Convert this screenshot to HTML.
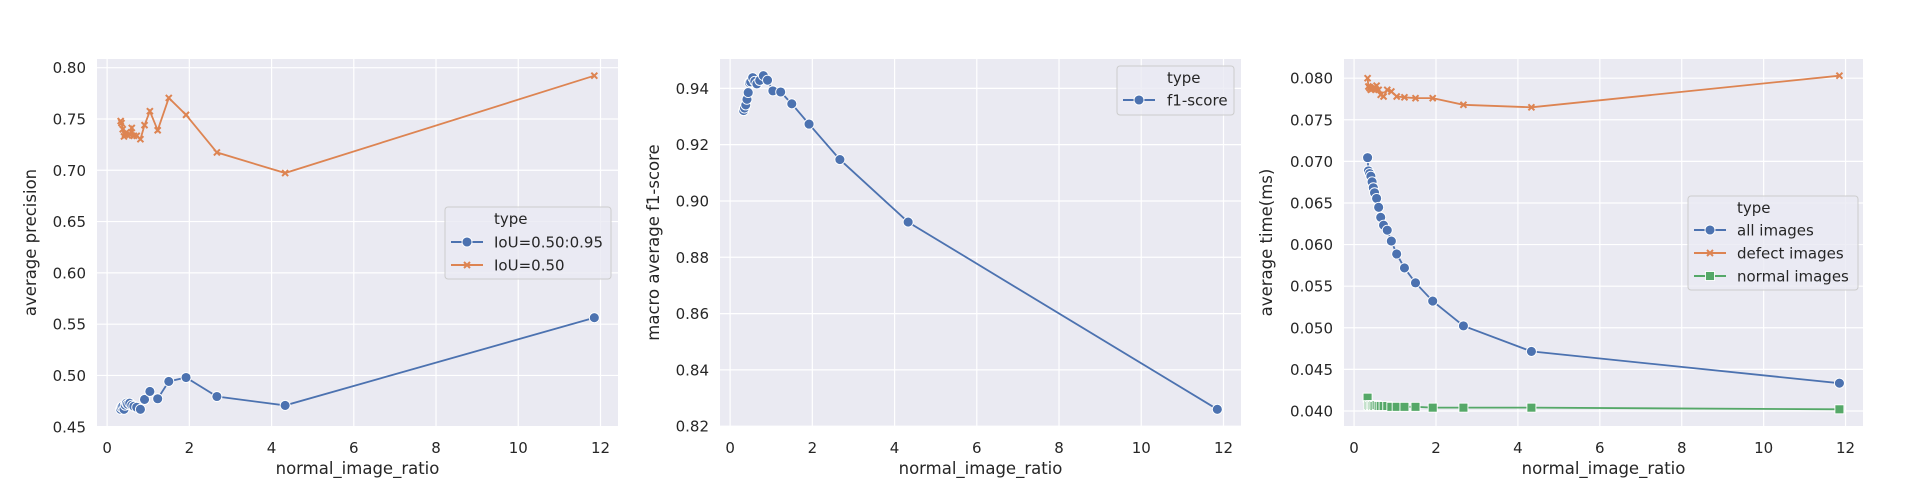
<!DOCTYPE html>
<html><head><meta charset="utf-8"><style>
body{margin:0;background:#fff;}
svg{display:block;font-family:"DejaVu Sans","Liberation Sans",sans-serif;}
</style></head><body>
<svg id="chart" width="1920" height="480" viewBox="0 0 1920 480" xmlns="http://www.w3.org/2000/svg"></svg>
<script>
const ratios = [0.33,0.35,0.38,0.41,0.44,0.47,0.50,0.55,0.60,0.65,0.72,0.81,0.91,1.04,1.23,1.50,1.92,2.67,4.33,11.85];
const apIoU5095 = [0.467,0.469,0.470,0.467,0.471,0.473,0.472,0.473,0.471,0.470,0.469,0.467,0.4766,0.4844,0.4773,0.4942,0.498,0.4795,0.4708,0.5563];
const apIoU50 = [0.748,0.746,0.740,0.733,0.735,0.737,0.734,0.735,0.7413,0.7336,0.7336,0.7303,0.744,0.7576,0.739,0.7705,0.754,0.7174,0.6973,0.7922];
const f1Score = [0.9321,0.933,0.9341,0.9361,0.9385,0.942,0.9423,0.9438,0.9425,0.9416,0.9428,0.9445,0.9429,0.9391,0.9387,0.9345,0.9273,0.9147,0.8925,0.826];
const timeAll = [0.07045,0.06886,0.06854,0.06822,0.06754,0.06683,0.06623,0.06555,0.06448,0.06328,0.06233,0.06173,0.06042,0.05887,0.05719,0.0554,0.05321,0.05023,0.04716,0.04334];
const timeDefect = [0.0800,0.0790,0.0788,0.0786,0.0787,0.0788,0.0789,0.0791,0.0786,0.0780,0.0778,0.0786,0.0784,0.0778,0.0777,0.0776,0.0776,0.0768,0.0765,0.0803];
const timeNormal = [0.0416,0.0407,0.0406,0.0407,0.0406,0.0407,0.0406,0.0407,0.0406,0.0406,0.0406,0.0406,0.0405,0.0405,0.0405,0.0405,0.0404,0.0404,0.0404,0.0402];
const xTicks = [0,2,4,6,8,10,12];
const yTicks1 = [0.45,0.50,0.55,0.60,0.65,0.70,0.75,0.80];
const yTicks2 = [0.82,0.84,0.86,0.88,0.90,0.92,0.94];
const yTicks3 = [0.040,0.045,0.050,0.055,0.060,0.065,0.070,0.075,0.080];

const NS = "http://www.w3.org/2000/svg";
const svg = document.getElementById('chart');
const C = {blue:'#4c72b0', orange:'#dd8452', green:'#55a868'};
function mk(tag, attrs, parent){ const e=document.createElementNS(NS,tag); for(const k in attrs) e.setAttribute(k,attrs[k]); (parent||svg).appendChild(e); return e; }

function extent(series){ let lo=Infinity,hi=-Infinity; series.forEach(s=>s.forEach(v=>{lo=Math.min(lo,v);hi=Math.max(hi,v);})); const m=(hi-lo)*0.05; return [lo-m,hi+m]; }

function marker(g, kind, x, y, color){
  let e;
  if(kind==='o'){ e=mk('circle',{cx:x,cy:y,r:5,fill:color,stroke:'#fff','stroke-width':0.9},g); }
  else if(kind==='x'){ const d=3; e=mk('path',{d:`M${x-d},${y-d}L${x+d},${y+d}M${x-d},${y+d}L${x+d},${y-d}`,stroke:color,'stroke-width':2,fill:'none'},g); }
  else { e=mk('rect',{x:x-4.5,y:y-4.5,width:9,height:9,fill:color,stroke:'#fff','stroke-width':0.9},g); }
  return e;
}

function panel(id, L, R, T, B, yTicks, yfmt, ylabel, ylabelX, series, legend){
  const g = mk('g',{});
  
  
  const xr = extent([ratios]);
  const yr = extent(series.map(s=>s.data));
  const sx = v => L + (v - xr[0])/(xr[1]-xr[0])*(R-L);
  const sy = v => B - (v - yr[0])/(yr[1]-yr[0])*(B-T);
  const bg = mk('rect',{x:L,y:T,width:R-L,height:B-T,fill:'#eaeaf2'},g);
  
  
  xTicks.forEach(t=>{
    const X=sx(t);
    mk('line',{x1:X,x2:X,y1:T,y2:B,stroke:'#fff','stroke-width':1.2},g);
    const tx=mk('text',{x:X,y:453,'text-anchor':'middle','font-size':15,fill:'#262626'},g);
    tx.textContent=t;
    
    
  });
  yTicks.forEach(t=>{
    const Y=sy(t);
    if(Y<T-1||Y>B+1) return;
    mk('line',{x1:L,x2:R,y1:Y,y2:Y,stroke:'#fff','stroke-width':1.2},g);
    const tx=mk('text',{x:L-11,y:Y+5.5,'text-anchor':'end','font-size':15,fill:'#262626'},g);
    tx.textContent=t.toFixed(yfmt);
    
    
  });
  const xl=mk('text',{x:(L+R)/2,y:474,'text-anchor':'middle','font-size':16.5,fill:'#262626'},g);
  xl.textContent='normal_image_ratio';
  
  
  const cy=(T+B)/2;
  const yl=mk('text',{x:ylabelX,y:cy,'text-anchor':'middle','font-size':16.5,fill:'#262626',transform:`rotate(-90 ${ylabelX} ${cy})`},g);
  yl.textContent=ylabel;
  
  
  series.forEach(s=>{
    const sg=mk('g',{},g);
    
    
    const pts=ratios.map((r,i)=>sx(r).toFixed(2)+','+sy(s.data[i]).toFixed(2)).join(' ');
    const pl=mk('polyline',{points:pts,fill:'none',stroke:s.color,'stroke-width':1.8},sg);
    
    
    ratios.forEach((r,i)=>{
      const m=marker(sg,s.kind,sx(r),sy(s.data[i]),s.color);
      
      
    });
  });
  const lg=mk('g',{},g);
  
  
  mk('rect',{x:legend.x,y:legend.y,width:legend.w,height:legend.h,rx:3,fill:'#eaeaf2','fill-opacity':0.8,stroke:'#cccccc'},lg);
  const tt=mk('text',{x:legend.x+legend.tx,y:legend.y+17,'font-size':15,fill:'#262626'},lg);
  tt.textContent='type';
  
  
  series.forEach((s,i)=>{
    const ey=legend.y+legend.first+i*23;
    const eg=mk('g',{},lg);
    
    
    mk('line',{x1:legend.x+6,x2:legend.x+38,y1:ey,y2:ey,stroke:s.color,'stroke-width':2},eg);
    marker(eg,s.kind,legend.x+22,ey,s.color);
    const et=mk('text',{x:legend.x+legend.tx,y:ey+5.5,'font-size':15,fill:'#262626'},eg);
    et.textContent=s.label;
  });
}

panel('panel-average-precision',97,618,59,426,yTicks1,2,'average precision',36,
  [{name:'series-iou-50-95',label:'IoU=0.50:0.95',data:apIoU5095,color:C.blue,kind:'o'},
   {name:'series-iou-50',label:'IoU=0.50',data:apIoU50,color:C.orange,kind:'x'}],
  {x:445,y:207,w:166,h:72,tx:49,first:35});
panel('panel-f1-score',720,1241,59,426,yTicks2,2,'macro average f1-score',659,
  [{name:'series-f1-score',label:'f1-score',data:f1Score,color:C.blue,kind:'o'}],
  {x:1117,y:66,w:117,h:49,tx:50,first:34});
panel('panel-average-time',1344,1863,59,426,yTicks3,3,'average time(ms)',1272,
  [{name:'series-all-images',label:'all images',data:timeAll,color:C.blue,kind:'o'},
   {name:'series-defect-images',label:'defect images',data:timeDefect,color:C.orange,kind:'x'},
   {name:'series-normal-images',label:'normal images',data:timeNormal,color:C.green,kind:'s'}],
  {x:1688,y:196,w:170,h:94,tx:49,first:34});
</script>
</body></html>
